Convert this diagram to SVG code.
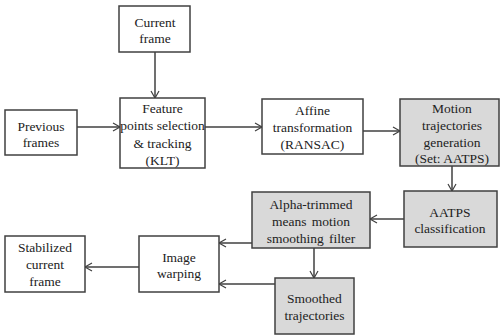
<svg xmlns="http://www.w3.org/2000/svg" width="500" height="335" viewBox="0 0 500 335">
<style>
.b{fill:#fff;stroke:#404040;stroke-width:1.5}
.g{fill:#d9d9d9;stroke:#404040;stroke-width:1.5}
.t{font-family:'Liberation Serif',serif;font-size:13.5px;fill:#222}
.c{fill:none;stroke:#404040;stroke-width:1.5}
</style>
<defs>
<marker id="a" markerWidth="10" markerHeight="10" refX="8" refY="5" orient="auto" markerUnits="userSpaceOnUse">
<path d="M1,1 L8,5 L1,9" fill="none" stroke="#404040" stroke-width="1.2"/>
</marker>
</defs>
<rect width="500" height="335" fill="#fff"/>
<g id="connectors">
<line class="c" x1="155" y1="52" x2="155" y2="98" marker-end="url(#a)"/>
<line class="c" x1="77" y1="127" x2="120" y2="127" marker-end="url(#a)"/>
<line class="c" x1="205" y1="127" x2="262" y2="127" marker-end="url(#a)"/>
<line class="c" x1="363" y1="131" x2="400" y2="131" marker-end="url(#a)"/>
<line class="c" x1="452" y1="166" x2="452" y2="191" marker-end="url(#a)"/>
<line class="c" x1="404" y1="219" x2="370" y2="219" marker-end="url(#a)"/>
<line class="c" x1="314" y1="248" x2="314" y2="278" marker-end="url(#a)"/>
<line class="c" x1="252" y1="243" x2="219" y2="243" marker-end="url(#a)"/>
<line class="c" x1="275" y1="284" x2="219" y2="284" marker-end="url(#a)"/>
<line class="c" x1="139" y1="267" x2="85" y2="267" marker-end="url(#a)"/>
</g>
<g id="current"><rect class="b" x="119" y="6" width="71" height="46"/><text class="t" text-anchor="middle" x="155" y="27">Current</text><text class="t" text-anchor="middle" x="155" y="43">frame</text></g>
<g id="previous"><rect class="b" x="5" y="110" width="72" height="45"/><text class="t" text-anchor="middle" x="41" y="131">Previous</text><text class="t" text-anchor="middle" x="41" y="147">frames</text></g>
<g id="feature"><rect class="b" x="120" y="98" width="85" height="70"/><text class="t" text-anchor="middle" x="162.5" y="113">Feature</text><text class="t" text-anchor="middle" x="162.5" y="130">points selection</text><text class="t" text-anchor="middle" x="162.5" y="148">&amp; tracking</text><text class="t" text-anchor="middle" x="162.5" y="165">(KLT)</text></g>
<g id="affine"><rect class="b" x="262" y="99" width="101" height="55"/><text class="t" text-anchor="middle" x="312.5" y="115">Affine</text><text class="t" text-anchor="middle" x="312.5" y="132">transformation</text><text class="t" text-anchor="middle" x="312.5" y="149">(RANSAC)</text></g>
<g id="motion"><rect class="g" x="400" y="99" width="99" height="67"/><text class="t" text-anchor="middle" x="452" y="113">Motion</text><text class="t" text-anchor="middle" x="452" y="130">trajectories</text><text class="t" text-anchor="middle" x="452" y="147">generation</text><text class="t" text-anchor="middle" x="452" y="163">(Set: AATPS)</text></g>
<g id="aatps"><rect class="g" x="404" y="191" width="93" height="56"/><text class="t" text-anchor="middle" x="450" y="217">AATPS</text><text class="t" text-anchor="middle" x="450" y="233">classification</text></g>
<g id="alpha"><rect class="g" x="252" y="192" width="118" height="56"/><text class="t" text-anchor="middle" x="311" y="209">Alpha-trimmed</text><text class="t" text-anchor="middle" x="311" y="226" word-spacing="2">means motion</text><text class="t" text-anchor="middle" x="311" y="243" word-spacing="2">smoothing filter</text></g>
<g id="smoothed"><rect class="g" x="275" y="278" width="79" height="56"/><text class="t" text-anchor="middle" x="314.5" y="303">Smoothed</text><text class="t" text-anchor="middle" x="314.5" y="320">trajectories</text></g>
<g id="warping"><rect class="b" x="139" y="236" width="80" height="56"/><text class="t" text-anchor="middle" x="179" y="262">Image</text><text class="t" text-anchor="middle" x="179" y="278">warping</text></g>
<g id="stabilized"><rect class="b" x="5" y="236" width="80" height="56"/><text class="t" text-anchor="middle" x="45" y="252">Stabilized</text><text class="t" text-anchor="middle" x="45" y="269">current</text><text class="t" text-anchor="middle" x="45" y="286">frame</text></g>
</svg>
